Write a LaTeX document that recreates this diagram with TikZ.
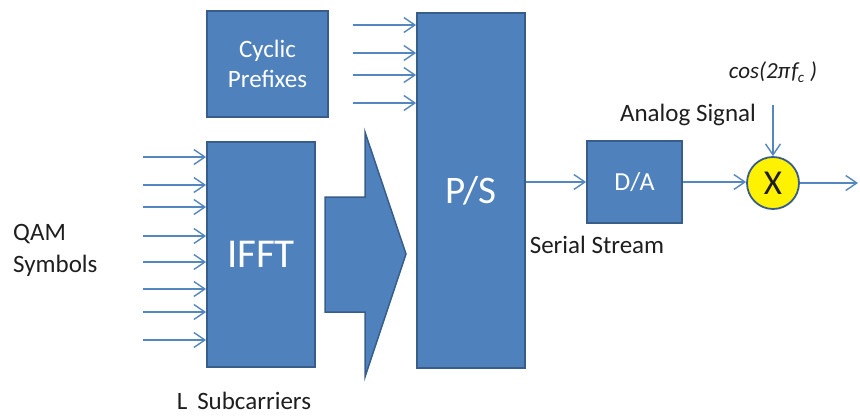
\documentclass[tikz,border=0pt]{standalone}
\usepackage{fontspec}
\setmainfont{Carlito}
\usetikzlibrary{arrows.meta,calc}
\definecolor{blockfill}{RGB}{79,129,189}
\definecolor{blockedge}{RGB}{56,93,138}
\definecolor{wire}{RGB}{84,134,192}
\definecolor{labeltext}{RGB}{30,30,30}
\tikzset{
  block/.style={draw=blockedge, line width=1.8pt, fill=blockfill, text=white, inner sep=0pt},
  wirearrow/.style={draw=wire, line width=1.4pt, -{Straight Barb[length=11pt,width=15pt,line width=1.4pt]}},
  label/.style={text=labeltext, font=\fontsize{25}{28}\selectfont, inner sep=0pt}
}
\begin{document}
\begin{tikzpicture}[x=1pt,y=-1pt]
\useasboundingbox (0,0) rectangle (860,416);

% processing blocks
\node[block, minimum width=121pt, minimum height=106pt, align=center,
      font=\fontsize{25}{30}\selectfont] (cp) at (267.5,64) {Cyclic\\Prefixes};
\node[block, minimum width=108pt, minimum height=225pt,
      font=\fontsize{41}{44}\selectfont] (ifft) at (261,254.5) {IFFT};
\node[block, minimum width=108pt, minimum height=355pt] (ps) at (471,190.5) {};
\node[font=\fontsize{39}{42}\selectfont, text=white] (pslabel) at (471,191) {P/S};
\node[block, minimum width=95pt, minimum height=82pt,
      font=\fontsize{26}{28}\selectfont] (da) at (634.5,182) {D/A};
\node[circle, draw=blockedge, line width=1.8pt, fill=yellow, minimum size=52pt,
      inner sep=0pt, font=\fontsize{35}{36}\selectfont, text=labeltext] (mix) at (773,183) {X};

% wide block arrow between IFFT and P/S
\draw[blockedge, line width=1.5pt, fill=blockfill, line join=miter]
  (325,197) -- (365,197) -- (365,132) -- (406,254) -- (365,377) -- (365,312) -- (325,312) -- cycle;

% subcarrier inputs into the IFFT
\foreach \i/\y in {1/157,2/185,3/207,4/236,5/262,6/289,7/312,8/340}{
  \coordinate (in\i) at (143,\y);
  \draw[wirearrow] (in\i) -- (in\i -| ifft.west);
}

% cyclic prefix inputs into the P/S
\foreach \i/\y in {1/25,2/53,3/75,4/103}{
  \coordinate (cpin\i) at (353,\y);
  \draw[wirearrow] (cpin\i) -- (cpin\i -| ps.west);
}

% serial chain
\draw[wirearrow] (ps.east |- da.west) -- (da.west);
\draw[wirearrow] (da.east) -- (da.east -| mix.west);
\coordinate (out) at (858,183);
\draw[wirearrow] (mix.east) -- (out);
\coordinate (carrier) at (773,105);
\draw[wirearrow] (carrier) -- (mix.north);

% labels
\node[label, anchor=west, align=left, font=\fontsize{25}{32}\selectfont] (qam) at (13,250) {QAM\\Symbols};
\node[label] (sub) at (244,401) {L\, Subcarriers};
\node[label] (serial) at (597,245) {Serial Stream};
\node[label] (analog) at (688,115) {Analog Signal};
\node[text=labeltext, inner sep=0pt, font=\itshape\fontsize{23}{26}\selectfont] (cos) at (773,72)
  {cos(2π\kern1pt f\kern-0.5pt\raisebox{-4pt}{\fontsize{15}{15}\selectfont c}\kern6pt)};
\end{tikzpicture}
\end{document}
